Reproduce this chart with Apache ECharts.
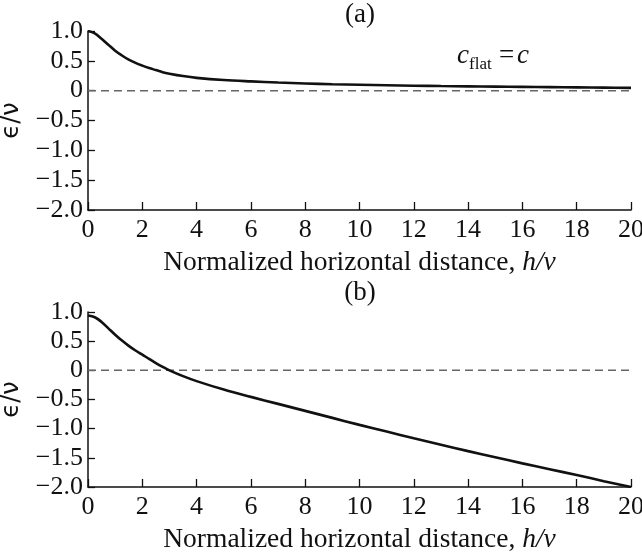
<!DOCTYPE html>
<html>
<head>
<meta charset="utf-8">
<script src="https://cdn.jsdelivr.net/npm/echarts@6/dist/echarts.min.js"></script>
<style>html,body{margin:0;padding:0;background:#fff}#c{width:642px;height:556px}</style>
</head>
<body>
<div id="c"></div>
<script>
// ---- data ----
var xTop = [0, 0.25, 0.5, 0.75, 1, 1.25, 1.5, 1.75, 2, 2.25, 2.5, 2.75, 3, 3.5, 4, 5, 6, 7, 8, 9, 10, 11, 12, 13, 14, 15, 16, 17, 18, 19, 20];
var yTop = [1.0, 0.96, 0.87, 0.77, 0.67, 0.59, 0.52, 0.465, 0.42, 0.38, 0.345, 0.31, 0.285, 0.245, 0.215, 0.178, 0.155, 0.136, 0.121, 0.108, 0.098, 0.09, 0.083, 0.077, 0.072, 0.067, 0.063, 0.059, 0.055, 0.051, 0.047];
var xBot = [0, 0.25, 0.5, 0.75, 1, 1.25, 1.5, 1.75, 2, 2.25, 2.5, 2.75, 3, 3.5, 4, 5, 6, 7, 8, 9, 10, 11, 12, 13, 14, 15, 16, 17, 18, 19, 20];
var yBot = [0.94, 0.91, 0.83, 0.72, 0.61, 0.51, 0.42, 0.34, 0.27, 0.195, 0.125, 0.06, 0.0, -0.1, -0.185, -0.33, -0.455, -0.575, -0.695, -0.815, -0.935, -1.05, -1.165, -1.275, -1.385, -1.49, -1.595, -1.695, -1.795, -1.9, -2.0];
var zeroX = [0, 20];
var zeroY = [0, 0];
var xTicks = [0, 2, 4, 6, 8, 10, 12, 14, 16, 18, 20];
var yTicks = [-2.0, -1.5, -1.0, -0.5, 0, 0.5, 1.0];
var panelLabels = ['(a)', '(b)'];
var xTitle = 'Normalized horizontal distance, ';
var xTitleItalic = 'h/v';
var yTitle = '\u03F5/\u03BD';

function pairs(xs, ys) { return xs.map(function (x, i) { return [x, ys[i]]; }); }

var serif = '"Liberation Serif", "DejaVu Serif", serif';
var chart = echarts.init(document.getElementById('c'), null, { renderer: 'canvas' });

function xAxisDef(gi) {
  return {
    type: 'value', gridIndex: gi, min: xTicks[0], max: xTicks[xTicks.length - 1], interval: 2,
    axisLine: { show: true, onZero: false, lineStyle: { color: '#111', width: 1.5 } },
    axisTick: { show: true, inside: true, length: 8, lineStyle: { color: '#111', width: 1.3 } },
    splitLine: { show: false },
    axisLabel: { color: '#111', fontFamily: serif, fontSize: 26, margin: 7, hideOverlap: false },
    name: xTitle + '{i|' + xTitleItalic + '}',
    nameLocation: 'middle', nameGap: 39,
    nameTextStyle: {
      color: '#111', fontFamily: serif, fontSize: 27.5, verticalAlign: 'top',
      rich: { i: { fontStyle: 'italic', fontFamily: serif, fontSize: 27.5, color: '#111' } }
    }
  };
}
function yAxisDef(gi) {
  return {
    type: 'value', gridIndex: gi, min: yTicks[0], max: yTicks[yTicks.length - 1], interval: 0.5,
    axisLine: { show: true, onZero: false, lineStyle: { color: '#111', width: 1.5 } },
    axisTick: { show: true, inside: true, length: 7, lineStyle: { color: '#111', width: 1.3 } },
    splitLine: { show: false },
    axisLabel: {
      color: '#111', fontFamily: serif, fontSize: 26, margin: 5, hideOverlap: false,
      formatter: function (v) { if (Math.abs(v) < 1e-9) return '0'; return (v < 0 ? '\u2212' : '') + Math.abs(v).toFixed(1); }
    },
    name: yTitle, nameLocation: 'middle', nameGap: 64, nameRotate: 90,
    nameTextStyle: { color: '#111', fontFamily: '"DejaVu Sans", sans-serif', fontSize: 24 }
  };
}

var option = {
  animation: false,
  backgroundColor: '#fff',
  grid: [
    { left: 88, right: 11, top: 31, height: 179, containLabel: false, outerBoundsMode: 'none' },
    { left: 88, right: 11, top: 312, height: 175, containLabel: false, outerBoundsMode: 'none' }
  ],
  xAxis: [xAxisDef(0), xAxisDef(1)],
  yAxis: [yAxisDef(0), yAxisDef(1)],
  series: [
    { type: 'line', xAxisIndex: 0, yAxisIndex: 0, data: pairs(zeroX, zeroY), symbol: 'none', silent: true,
      lineStyle: { color: '#666', width: 1.5, type: [8, 5] } },
    { type: 'line', xAxisIndex: 1, yAxisIndex: 1, data: pairs(zeroX, zeroY), symbol: 'none', silent: true,
      lineStyle: { color: '#666', width: 1.5, type: [8, 5] } },
    { type: 'line', xAxisIndex: 0, yAxisIndex: 0, data: pairs(xTop, yTop), symbol: 'none', smooth: 0.35,
      lineStyle: { color: '#111', width: 2.6 } },
    { type: 'line', xAxisIndex: 1, yAxisIndex: 1, data: pairs(xBot, yBot), symbol: 'none', smooth: 0.35,
      lineStyle: { color: '#111', width: 2.6 } }
  ],
  graphic: [
    { type: 'text', x: 360, y: 15, style: { text: panelLabels[0], font: '27px ' + serif, fill: '#111', align: 'center', verticalAlign: 'middle' } },
    { type: 'text', x: 360, y: 293, style: { text: panelLabels[1], font: '27px ' + serif, fill: '#111', align: 'center', verticalAlign: 'middle' } },
    { type: 'text', x: 457, y: 69, style: { text: 'c', font: 'italic 27px ' + serif, fill: '#111', verticalAlign: 'bottom' } },
    { type: 'text', x: 469, y: 73, style: { text: 'flat', font: '17px ' + serif, fill: '#111', verticalAlign: 'bottom' } },
    { type: 'text', x: 499, y: 69, style: { text: '=', font: '27px ' + serif, fill: '#111', verticalAlign: 'bottom' } },
    { type: 'text', x: 517, y: 69, style: { text: 'c', font: 'italic 27px ' + serif, fill: '#111', verticalAlign: 'bottom' } }
  ]
};
chart.setOption(option);
</script>
</body>
</html>
